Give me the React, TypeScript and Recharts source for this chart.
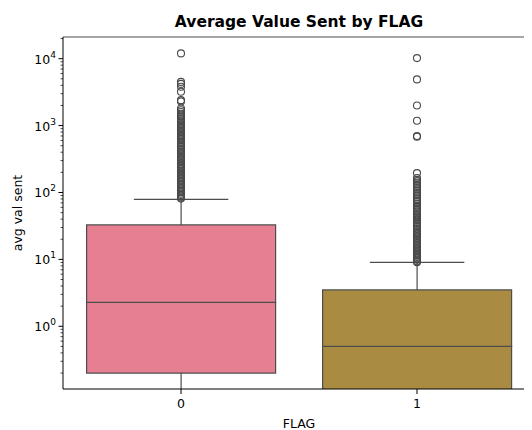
import React from 'react';
import { ComposedChart, Bar, Cell, Scatter, XAxis, YAxis, ReferenceLine } from 'recharts';

const flags = ['0', '1'];
const q1 = [0.2, 0.05];
const medians = [2.27, 0.5];
const q3 = [32.7, 3.5];
const whiskerLow = [0.03, 0.03];
const whiskerHigh = [79, 9];
const boxColors = ['#e67f91', '#a98c41'];

const outliers0 = [
  12000, 4500, 4200, 3800, 3200, 2400, 2300, 1800, 1700, 1600, 1500, 1420, 1350, 1280, 1200,
  1150, 1100, 1050, 1000, 960, 920, 880, 840, 800, 760, 720, 690, 660, 630, 600, 570, 540, 510,
  480, 455, 430, 410, 390, 370, 350, 330, 315, 300, 285, 270, 257, 245, 233, 222, 211, 200, 190,
  181, 172, 164, 156, 148, 141, 134, 128, 122, 116, 111, 106, 101, 96, 92, 88, 84, 81,
];
const outliers1 = [
  10200, 4900, 2000, 1180, 700, 680, 195, 165, 155, 148, 140, 132, 125, 118, 112, 106, 100, 95,
  90, 85, 80, 76, 72, 68, 64, 61, 58, 55, 52, 49, 46, 44, 42, 40, 38, 36, 34, 32, 30.5, 29, 27.5,
  26, 24.7, 23.5, 22.3, 21.2, 20.1, 19.1, 18.2, 17.3, 16.4, 15.6, 14.8, 14.1, 13.4, 12.7, 12.1,
  11.5, 10.9, 10.4, 9.9, 9.4, 9.1,
];

const yMajorTicks = [1, 10, 100, 1000, 10000];
const yMinorTicks = [
  0.2, 0.3, 0.4, 0.5, 0.6, 0.7, 0.8, 0.9, 2, 3, 4, 5, 6, 7, 8, 9, 20, 30, 40, 50, 60, 70, 80, 90,
  200, 300, 400, 500, 600, 700, 800, 900, 2000, 3000, 4000, 5000, 6000, 7000, 8000, 9000, 20000,
];
const yDomain = [0.1155, 21100];

const FONT = 'DejaVu Sans, sans-serif';
const LINE = '#4d4d4d';

const boxData = flags.map((flag, i) => ({
  flag,
  lowW: [whiskerLow[i], q1[i]],
  lowBox: [q1[i], medians[i]],
  highBox: [medians[i], q3[i]],
  highW: [q3[i], whiskerHigh[i]],
}));

const outlierData = [
  ...outliers0.map((v) => ({ flag: '0', v })),
  ...outliers1.map((v) => ({ flag: '1', v })),
];

const Whisker = (p: any, capAtTop: boolean) => {
  const cx = p.x + p.width / 2;
  const top = Math.min(p.y, p.y + p.height);
  const bottom = Math.max(p.y, p.y + p.height);
  const capY = capAtTop ? top : bottom;
  return (
    <g>
      <line x1={cx} x2={cx} y1={top} y2={bottom} stroke={LINE} strokeWidth={1.2} />
      <line x1={cx - p.width / 4} x2={cx + p.width / 4} y1={capY} y2={capY} stroke={LINE} strokeWidth={1.2} />
    </g>
  );
};

const YTick = (props: any) => {
  const { x, y, payload } = props;
  const v = payload.value;
  const major = yMajorTicks.includes(v);
  const len = major ? 4.5 : 2.5;
  return (
    <g>
      <line x1={x - len} x2={x} y1={y} y2={y} stroke="#000" strokeWidth={major ? 1 : 0.7} />
      {major && (
        <text x={x - 7} y={y + 5} textAnchor="end" fontSize={12.5} fill="#000" fontFamily={FONT}>
          10
          <tspan dy={-6} fontSize={9}>
            {Math.round(Math.log10(v))}
          </tspan>
        </text>
      )}
    </g>
  );
};

export default function App() {
  return (
    <div style={{ position: 'relative', width: 524, height: 422, overflow: 'hidden', fontFamily: FONT }}>
      <div
        style={{
          position: 'absolute',
          left: 55,
          width: 472,
          top: 4,
          lineHeight: '20px',
          textAlign: 'center',
          fontWeight: 'bold',
          fontSize: 15.5,
          color: '#000',
        }}
      >
        Average Value Sent by FLAG
      </div>
      <ComposedChart
        width={530}
        height={421}
        data={boxData}
        margin={{ top: 29, right: 3, bottom: 0, left: 0 }}
        barCategoryGap="10%"
      >
        <XAxis xAxisId="lw" dataKey="flag" hide orientation="top" height={0} allowDuplicatedCategory={false} />
        <XAxis xAxisId="lb" dataKey="flag" hide orientation="top" height={0} allowDuplicatedCategory={false} />
        <XAxis xAxisId="hb" dataKey="flag" hide orientation="top" height={0} allowDuplicatedCategory={false} />
        <XAxis xAxisId="hw" dataKey="flag" hide orientation="top" height={0} allowDuplicatedCategory={false} />
        <XAxis
          xAxisId="main"
          dataKey="flag"
          allowDuplicatedCategory={false}
          height={40}
          axisLine={{ stroke: '#000', strokeWidth: 1 }}
          tickLine={{ stroke: '#000' }}
          tickSize={5}
          tickMargin={5}
          tick={{ fontSize: 12.5, fill: '#000', fontFamily: FONT }}
          label={{ value: 'FLAG', position: 'insideBottom', offset: 1, fontSize: 12.5, fill: '#000', fontFamily: FONT }}
        />
        <YAxis
          scale="log"
          domain={yDomain}
          allowDataOverflow
          width={55}
          ticks={[...yMinorTicks, ...yMajorTicks].sort((a, b) => a - b)}
          interval={0}
          tickSize={0}
          tickMargin={0}
          tickLine={false}
          axisLine={{ stroke: '#000', strokeWidth: 1 }}
          tick={(p: any) => <YTick {...p} />}
          label={{
            content: (p: any) => {
              const vb = p.viewBox;
              const lx = vb.x + 9;
              const ly = vb.y + vb.height / 2;
              return (
                <text
                  x={lx}
                  y={ly}
                  transform={`rotate(-90 ${lx} ${ly})`}
                  textAnchor="middle"
                  dominantBaseline="central"
                  fontSize={12.5}
                  fill="#000"
                  fontFamily={FONT}
                >
                  avg val sent
                </text>
              );
            },
          }}
        />
        <ReferenceLine xAxisId="main" y={yDomain[1]} stroke="#888" strokeWidth={1.6} />
        <Bar xAxisId="lw" dataKey="lowW" isAnimationActive={false} shape={(p: any) => Whisker(p, false)} />
        <Bar xAxisId="hw" dataKey="highW" isAnimationActive={false} shape={(p: any) => Whisker(p, true)} />
        <Bar xAxisId="lb" dataKey="lowBox" isAnimationActive={false} stroke={LINE} strokeWidth={1.2}>
          {flags.map((f, i) => (
            <Cell key={f} fill={boxColors[i]} />
          ))}
        </Bar>
        <Bar xAxisId="hb" dataKey="highBox" isAnimationActive={false} stroke={LINE} strokeWidth={1.2}>
          {flags.map((f, i) => (
            <Cell key={f} fill={boxColors[i]} />
          ))}
        </Bar>
        <Scatter
          xAxisId="main"
          data={outlierData}
          dataKey="v"
          isAnimationActive={false}
          shape={(p: any) => (
            <circle cx={p.cx} cy={p.cy} r={3.5} fill="none" stroke="#4a4a4a" strokeWidth={1.1} />
          )}
        />
      </ComposedChart>
    </div>
  );
}
